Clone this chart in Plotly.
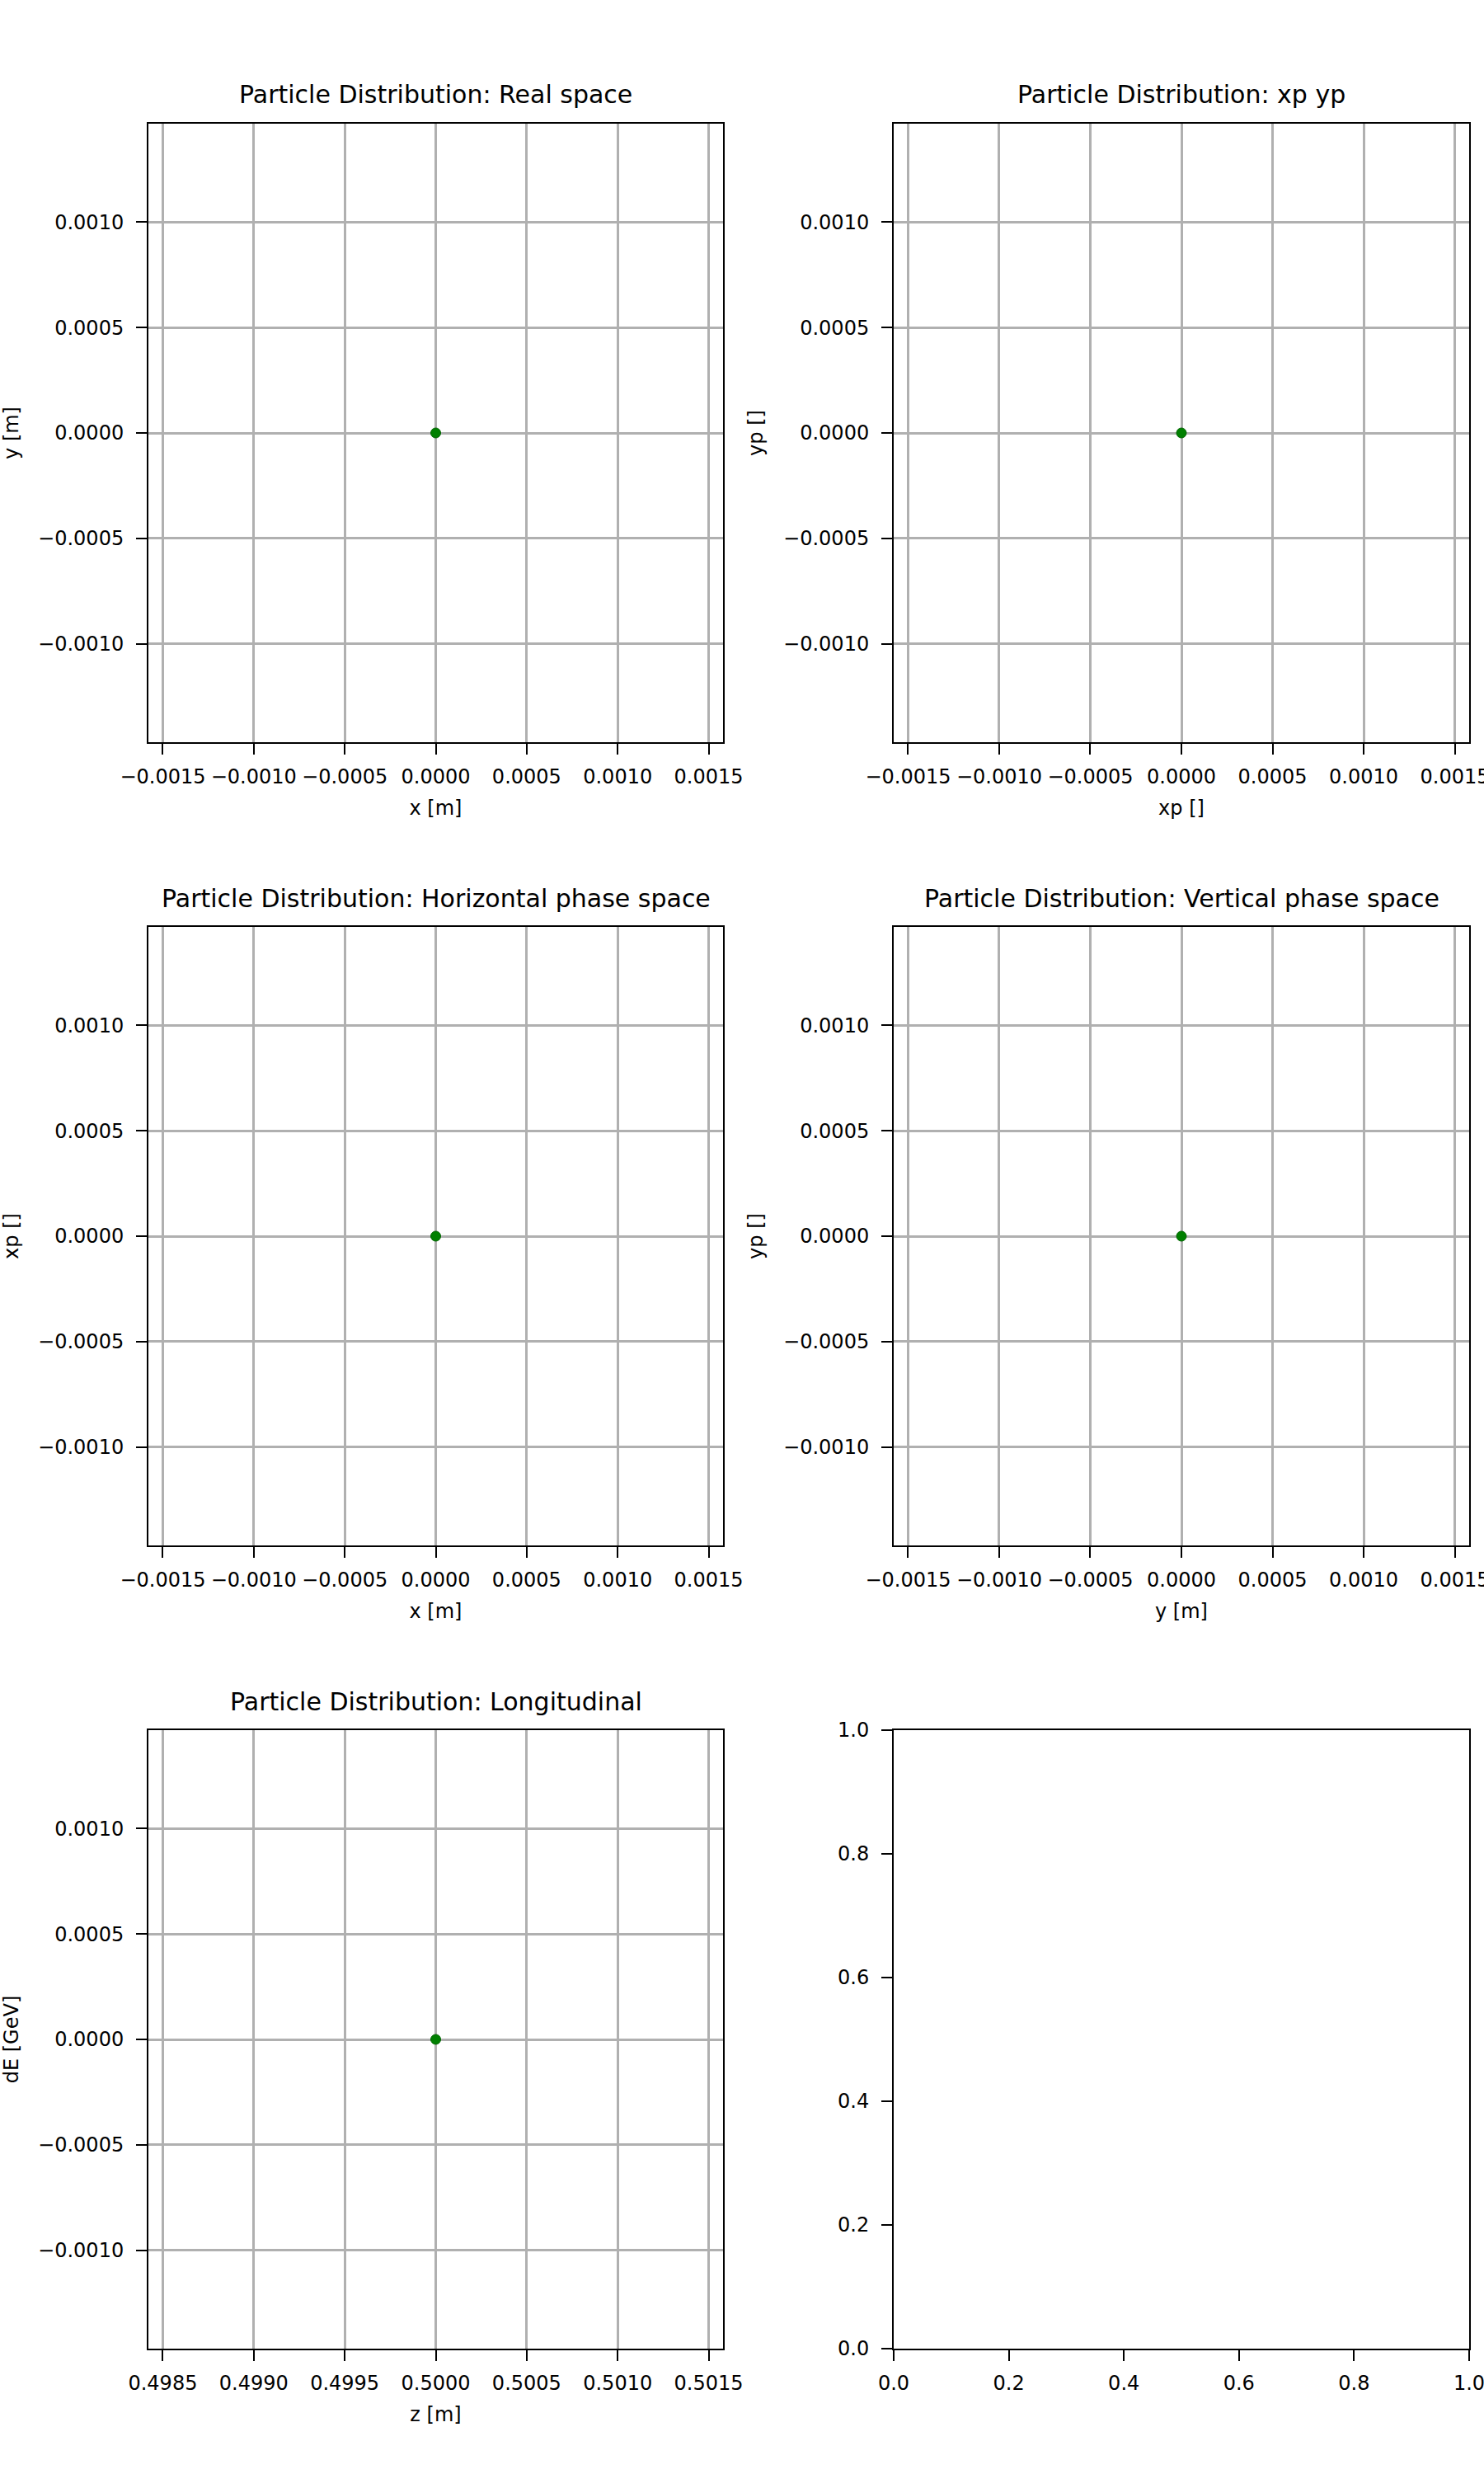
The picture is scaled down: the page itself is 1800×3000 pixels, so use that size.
import plotly.graph_objects as go

# ---- data ----
real_x = [0.0]
real_y = [0.0]
xp_vals = [0.0]
yp_vals = [0.0]
hor_x = [0.0]
hor_xp = [0.0]
ver_y = [0.0]
ver_yp = [0.0]
long_z = [0.5]
long_dE = [0.0]

titles = [
    "Particle Distribution: Real space",
    "Particle Distribution: xp yp",
    "Particle Distribution: Horizontal phase space",
    "Particle Distribution: Vertical phase space",
    "Particle Distribution: Longitudinal",
]
xlabels = ["x [m]", "xp []", "x [m]", "y [m]", "z [m]", ""]
ylabels = ["y [m]", "yp []", "xp []", "yp []", "dE [GeV]", ""]

tick_vals_sym = [-0.0015, -0.0010, -0.0005, 0.0, 0.0005, 0.0010, 0.0015]
tick_text_sym = ["\u22120.0015", "\u22120.0010", "\u22120.0005", "0.0000", "0.0005", "0.0010", "0.0015"]
ytick_vals = [-0.0010, -0.0005, 0.0, 0.0005, 0.0010]
ytick_text = ["\u22120.0010", "\u22120.0005", "0.0000", "0.0005", "0.0010"]
z_tick_vals = [0.4985, 0.4990, 0.4995, 0.5000, 0.5005, 0.5010, 0.5015]
z_tick_text = ["0.4985", "0.4990", "0.4995", "0.5000", "0.5005", "0.5010", "0.5015"]
empty_tick_vals = [0.0, 0.2, 0.4, 0.6, 0.8, 1.0]
empty_tick_text = ["0.0", "0.2", "0.4", "0.6", "0.8", "1.0"]

x_half = 0.001579
y_half = 0.001466

W, H = 1800, 3000
col_dom = [[180 / W, 877 / W], [1084 / W, 1782 / W]]
row_px = [(150, 900), (1124, 1874), (2098, 2848)]
row_dom = [[1 - b / H, 1 - t / H] for (t, b) in row_px]

FONT = "DejaVu Sans"
GRID = "#b0b0b0"

fig = go.Figure()

series = [
    (real_x, real_y),
    (xp_vals, yp_vals),
    (hor_x, hor_xp),
    (ver_y, ver_yp),
    (long_z, long_dE),
]

for i, (xs, ys) in enumerate(series):
    n = "" if i == 0 else str(i + 1)
    fig.add_trace(go.Scatter(
        x=xs, y=ys, mode="markers",
        marker=dict(size=12, color="green", line=dict(color="#006400", width=1)),
        xaxis="x" + n, yaxis="y" + n, showlegend=False,
    ))

# empty sixth panel
fig.add_trace(go.Scatter(x=[], y=[], mode="markers", xaxis="x6", yaxis="y6", showlegend=False))

def base_axis():
    return dict(
        showline=True, linecolor="black", linewidth=2, mirror=True,
        ticks="outside", ticklen=13, tickwidth=2, tickcolor="black",
        showgrid=True, gridcolor=GRID, gridwidth=2.5, zeroline=False,
        tickfont=dict(family=FONT, size=24, color="black"),
        tickmode="array", automargin=False, ticklabeloverflow="allow",
    )

layout = dict(
    width=W, height=H,
    margin=dict(l=0, r=0, t=0, b=0),
    paper_bgcolor="white", plot_bgcolor="white",
    font=dict(family=FONT, color="black"),
    showlegend=False,
)

annotations = []
for i in range(6):
    r, c = divmod(i, 2)
    n = "" if i == 0 else str(i + 1)
    xa = base_axis()
    ya = base_axis()
    xa["domain"] = col_dom[c]
    ya["domain"] = row_dom[r]
    xa["anchor"] = "y" + n
    ya["anchor"] = "x" + n
    xa["ticklabelstandoff"] = 6
    ya["ticklabelstandoff"] = 10
    if i < 4:
        xa.update(range=[-x_half, x_half], tickvals=tick_vals_sym, ticktext=tick_text_sym)
        ya.update(range=[-y_half, y_half], tickvals=ytick_vals, ticktext=ytick_text)
    elif i == 4:
        xa.update(range=[0.5 - x_half, 0.5 + x_half], tickvals=z_tick_vals, ticktext=z_tick_text)
        ya.update(range=[-y_half, y_half], tickvals=ytick_vals, ticktext=ytick_text)
    else:
        xa.update(range=[0, 1], tickvals=empty_tick_vals, ticktext=empty_tick_text, showgrid=False)
        ya.update(range=[0, 1], tickvals=empty_tick_vals, ticktext=empty_tick_text, showgrid=False)
    if xlabels[i]:
        xa["title"] = dict(text=xlabels[i], font=dict(family=FONT, size=24, color="black"), standoff=16)
    if ylabels[i]:
        ya["title"] = dict(text=ylabels[i], font=dict(family=FONT, size=24, color="black"), standoff=18)
    layout["xaxis" + n] = xa
    layout["yaxis" + n] = ya
    if i < 5:
        annotations.append(dict(
            text=titles[i], xref="paper", yref="paper",
            x=(col_dom[c][0] + col_dom[c][1]) / 2,
            y=row_dom[r][1] + 35 / H,
            xanchor="center", yanchor="middle", showarrow=False,
            font=dict(family=FONT, size=30, color="black"),
        ))

layout["annotations"] = annotations
fig.update_layout(**layout)
fig.write_html("out.html")
